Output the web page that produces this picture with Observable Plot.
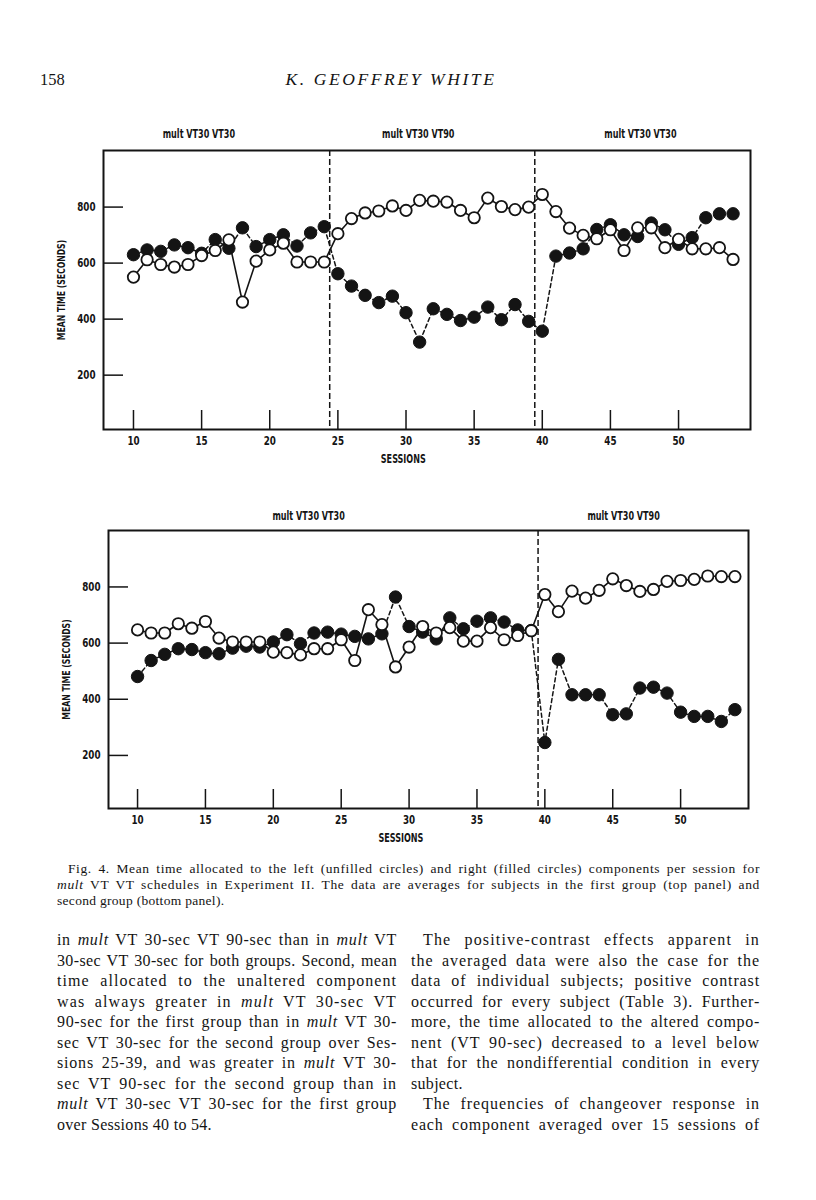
<!DOCTYPE html>
<html><head><meta charset="utf-8">
<script src="https://cdn.jsdelivr.net/npm/d3@7"></script>
<script src="https://cdn.jsdelivr.net/npm/@observablehq/plot@0.6"></script>
<style>
body{margin:0;background:#fff;}
#page{position:relative;width:816px;height:1200px;overflow:hidden;background:#fff;font-family:"Liberation Serif","DejaVu Serif",serif;color:#141414;}
.abs{position:absolute;}
.ln{display:block;height:20.5px;line-height:20.5px;text-align:justify;text-align-last:justify;white-space:normal;overflow:hidden;}
.cap{display:block;height:16px;line-height:16px;text-align:justify;text-align-last:justify;overflow:hidden;}
.ln.last,.cap.last{text-align-last:left;}
svg{overflow:visible;}
</style></head>
<body><div id="page">
<div class="abs" style="left:40px;top:70px;font-size:16.5px;">158</div>
<div class="abs" style="left:191px;width:400px;top:69px;text-align:center;font-size:17.5px;font-style:italic;letter-spacing:2.6px;">K. GEOFFREY WHITE</div>
<div id="top" class="abs" style="left:0;top:115px;"></div>
<div id="bottom" class="abs" style="left:0;top:495px;"></div>
<div class="abs" style="left:57px;top:861px;width:703px;font-size:13.5px;">
<span class="cap" style="padding-left:11px;">Fig. 4. Mean time allocated to the left (unfilled circles) and right (filled circles) components per session for</span>
<span class="cap"><i>mult</i> VT VT schedules in Experiment II. The data are averages for subjects in the first group (top panel) and</span>
<span class="cap last">second group (bottom panel).</span>
</div>
<div class="abs" style="left:57px;top:930px;width:340px;font-size:16px;">
<span class="ln">in <i>mult</i> VT 30-sec VT 90-sec than in <i>mult</i> VT</span>
<span class="ln">30-sec VT 30-sec for both groups. Second, mean</span>
<span class="ln">time allocated to the unaltered component</span>
<span class="ln">was always greater in <i>mult</i> VT 30-sec VT</span>
<span class="ln">90-sec for the first group than in <i>mult</i> VT 30-</span>
<span class="ln">sec VT 30-sec for the second group over Ses-</span>
<span class="ln">sions 25-39, and was greater in <i>mult</i> VT 30-</span>
<span class="ln">sec VT 90-sec for the second group than in</span>
<span class="ln"><i>mult</i> VT 30-sec VT 30-sec for the first group</span>
<span class="ln last">over Sessions 40 to 54.</span>
</div>
<div class="abs" style="left:411px;top:930px;width:349px;font-size:16px;">
<span class="ln" style="padding-left:12px;">The positive-contrast effects apparent in</span>
<span class="ln">the averaged data were also the case for the</span>
<span class="ln">data of individual subjects; positive contrast</span>
<span class="ln">occurred for every subject (Table 3). Further-</span>
<span class="ln">more, the time allocated to the altered compo-</span>
<span class="ln">nent (VT 90-sec) decreased to a level below</span>
<span class="ln">that for the nondifferential condition in every</span>
<span class="ln last">subject.</span>
<span class="ln" style="padding-left:12px;">The frequencies of changeover response in</span>
<span class="ln">each component averaged over 15 sessions of</span>
</div>
</div>
<script>
const sessions = d3.range(10, 55);
const xTicks = [10, 15, 20, 25, 30, 35, 40, 45, 50];
const yTicks = [200, 400, 600, 800];

// Top panel (first group)
const topLeft = [550,612,595,586,595,627,645,683,461,607,647,671,604,604,604,705,759,779,786,804,788,824,821,818,788,762,832,802,791,800,845,784,725,699,687,719,645,726,726,655,685,651,651,655,613];
const topRight = [630,647,642,665,655,635,684,653,726,659,684,701,661,708,730,562,518,485,459,482,423,318,437,417,395,407,443,398,452,392,357,625,636,651,720,737,701,695,743,719,667,691,762,776,776];
const topPhases = ["mult VT30 VT30", "mult VT30 VT90", "mult VT30 VT30"];
const topPhaseCenters = [14.8, 30.9, 47.2];
const topDividers = [24.4, 39.45];

// Bottom panel (second group)
const botLeft = [647,636,636,669,653,677,618,604,604,604,568,566,558,580,580,612,538,719,666,515,586,659,636,655,607,607,655,612,627,644,773,712,785,760,788,829,805,784,791,820,823,827,839,837,837];
const botRight = [481,538,560,580,577,566,562,582,589,586,604,630,598,636,639,632,624,615,633,764,659,639,615,690,651,678,690,675,647,645,246,542,416,416,416,345,348,440,443,422,354,339,339,321,363];
const botPhases = ["mult VT30 VT30", "mult VT30 VT90"];
const botPhaseCenters = [22.6, 45.8];
const botDividers = [39.5];

const cond = '"DejaVu Sans Condensed","Liberation Sans Narrow","Roboto Condensed","DejaVu Sans",sans-serif';
const ink = "#141414";

function panel(cfg) {
  const W = 816;
  const frameW = W - cfg.ml - cfg.mr;
  const frameH = cfg.h - cfg.mt - cfg.mb;
  const L = sessions.map((s, i) => ({s, v: cfg.left[i]}));
  const R = sessions.map((s, i) => ({s, v: cfg.right[i]}));
  const P = cfg.phases.map((t, i) => ({t, x: cfg.centers[i]}));
  return Plot.plot({
    width: W, height: cfg.h,
    marginLeft: cfg.ml, marginRight: cfg.mr, marginTop: cfg.mt, marginBottom: cfg.mb,
    x: {domain: cfg.xd}, y: {domain: cfg.yd},
    style: {fontFamily: cond, fontWeight: "bold", color: ink, background: "transparent", overflow: "visible"},
    marks: [
      Plot.ruleY(yTicks, {y: d => d, insetRight: frameW - 20, stroke: ink, strokeWidth: 1.5}),
      Plot.ruleX(xTicks, {x: d => d, insetTop: frameH - 19, stroke: ink, strokeWidth: 1.5}),
      Plot.ruleX(cfg.div, {x: d => d, stroke: ink, strokeWidth: 1.5, strokeDasharray: "6,3"}),
      Plot.frame({stroke: ink, strokeWidth: 2}),
      Plot.axisX({ticks: xTicks, tickSize: 0, tickPadding: 7, fontSize: 12.5, label: null, fontWeight: "bold"}),
      Plot.axisY({ticks: yTicks, tickSize: 0, tickPadding: 8, fontSize: 12.5, label: null, fontWeight: "bold"}),
      Plot.text(["MEAN TIME (SECONDS)"], {frameAnchor: "left", textAnchor: "middle", rotate: -90, dx: -42, fontSize: 11, text: d => d}),
      Plot.text(["SESSIONS"], {x: () => cfg.sessX, frameAnchor: "bottom", dy: 33, fontSize: 11.5, text: d => d}),
      Plot.text(P, {x: "x", text: "t", frameAnchor: "top", dy: cfg.phaseDy, fontSize: 11.5}),
      Plot.line(R, {x: "s", y: "v", stroke: ink, strokeWidth: 1.5, strokeDasharray: "4,3"}),
      Plot.line(L, {x: "s", y: "v", stroke: ink, strokeWidth: 1.6}),
      Plot.dot(R, {x: "s", y: "v", r: 6.2, fill: ink, stroke: ink, strokeWidth: 1}),
      Plot.dot(L, {x: "s", y: "v", r: 5.7, fill: "white", stroke: ink, strokeWidth: 1.8})
    ]
  });
}

// narrow the sans labels to mimic the condensed lettering of the original
function condense(svg, factor) {
  svg.querySelectorAll("text").forEach(t => {
    const len = t.getComputedTextLength();
    if (len > 0) {
      t.setAttribute("textLength", (len * factor).toFixed(2));
      t.setAttribute("lengthAdjust", "spacingAndGlyphs");
    }
  });
}

const topSvg = panel({
  left: topLeft, right: topRight, phases: topPhases, centers: topPhaseCenters, div: topDividers,
  h: 365, ml: 103, mr: 66, mt: 35, mb: 51, xd: [7.8, 55.28], yd: [6, 1002], sessX: 29.8, phaseDy: -21
});
document.getElementById("top").appendChild(topSvg);
condense(topSvg, 0.78);

const botSvg = panel({
  left: botLeft, right: botRight, phases: botPhases, centers: botPhaseCenters, div: botDividers,
  h: 365, ml: 108, mr: 68, mt: 35, mb: 52, xd: [7.86, 55.0], yd: [11, 1001], sessX: 29.4, phaseDy: -19
});
document.getElementById("bottom").appendChild(botSvg);
condense(botSvg, 0.78);

// spread justified lines partly through letter spacing (the original type is wider)
document.querySelectorAll(".ln, .cap").forEach(el => {
  const pad = parseFloat(getComputedStyle(el).paddingLeft) || 0;
  const avail = el.clientWidth - pad;
  el.style.textAlign = "left";
  el.style.textAlignLast = "left";
  const probe = document.createElement("span");
  probe.style.whiteSpace = "nowrap";
  probe.style.display = "inline-block";
  probe.innerHTML = el.innerHTML;
  el.innerHTML = "";
  el.appendChild(probe);
  const nat = probe.getBoundingClientRect().width;
  el.innerHTML = probe.innerHTML;
  el.style.textAlign = "";
  el.style.textAlignLast = "";
  const chars = el.textContent.length;
  const isLast = el.classList.contains("last");
  if (nat > avail) {
    el.style.letterSpacing = ((avail - nat) / chars - 0.05) + "px";
  } else if (!isLast) {
    el.style.letterSpacing = (0.6 * (avail - nat) / chars) + "px";
  } else {
    el.style.letterSpacing = "0.3px";
  }
});
</script>
</body></html>
